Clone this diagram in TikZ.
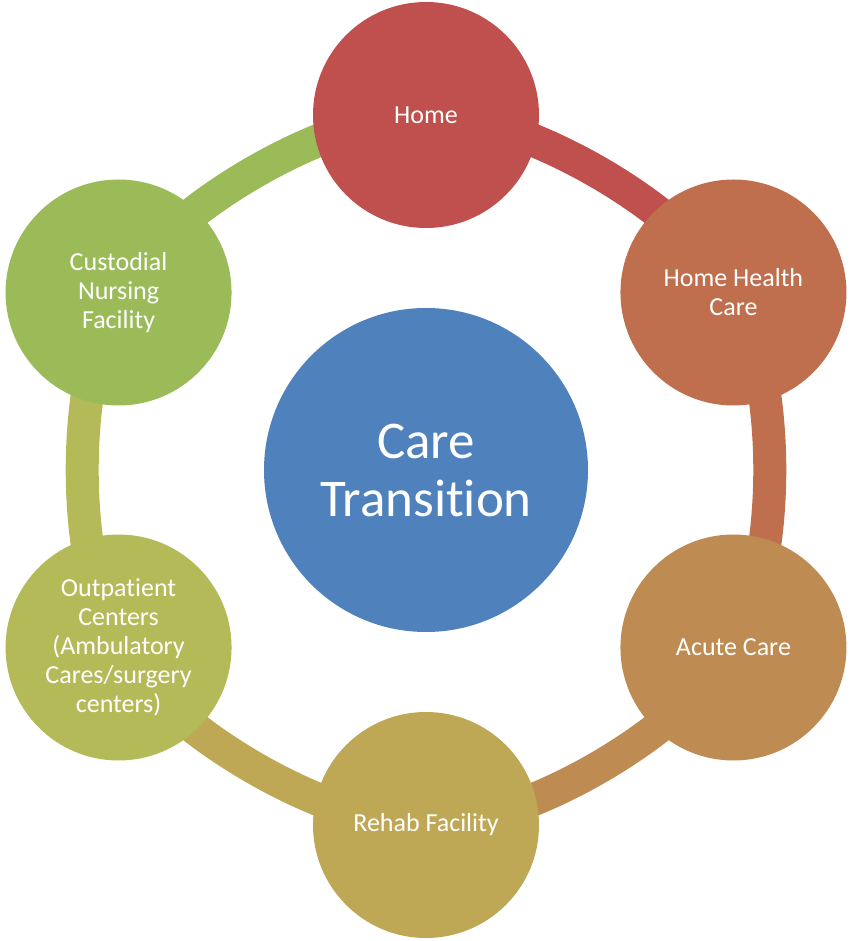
\documentclass[tikz,border=0pt]{standalone}
\usepackage{fontspec}
\setmainfont{Carlito}[Ligatures=NoCommon]
\usetikzlibrary{backgrounds}

\definecolor{hubblue}{HTML}{4F81BD}
\definecolor{homered}{HTML}{C0504D}
\definecolor{hhcred}{HTML}{BF6E4E}
\definecolor{acuteorange}{HTML}{BE8C52}
\definecolor{rehabtan}{HTML}{BEA855}
\definecolor{outpatolive}{HTML}{B5BA59}
\definecolor{custgreen}{HTML}{9BBB59}

\begin{document}
\begin{tikzpicture}[x=1pt, y=1pt,
		hub/.style={circle, fill=hubblue, text=white, align=center,
			minimum size=324pt, inner sep=0pt,
			font=\fontsize{53}{58}\selectfont},
		stage/.style={circle, fill=#1, text=white, align=center,
			minimum size=226pt, inner sep=0pt,
			font=\fontsize{26}{29}\selectfont},
		ring/.style={draw=#1, line width=33pt, bend left=30, looseness=0.70}]
		
		\useasboundingbox (-426,-471) rectangle (423,470);
		
		% Define nodes
		\node[hub]                               (care)  {Care\\Transition};
		\node[stage=homered]     at (90:355)     (home)  {Home};
		\node[stage=hhcred]      at (30:355)     (hhc)   {Home Health\\Care};
		\node[stage=acuteorange] at (-30:355)    (acute) {Acute Care};
		\node[stage=rehabtan]    at (-90:355)    (rehab) {Rehab Facility};
		\node[stage=outpatolive] at (-150:355)   (outp)  {Outpatient\\Centers\\(Ambulatory\\Cares/surgery\\centers)};
		\node[stage=custgreen]   at (150:355)    (cust)  {Custodial\\Nursing\\Facility};
		
		% Connect the nodes
		\begin{scope}[on background layer]
			\draw[ring=homered]     (home.center)  to (hhc.center);
			\draw[ring=hhcred]      (hhc.center)   to (acute.center);
			\draw[ring=acuteorange] (acute.center) to (rehab.center);
			\draw[ring=rehabtan]    (rehab.center) to (outp.center);
			\draw[ring=outpatolive] (outp.center)  to (cust.center);
			\draw[ring=custgreen]   (cust.center)  to (home.center);
		\end{scope}
		
		\end{tikzpicture}
\end{document}
